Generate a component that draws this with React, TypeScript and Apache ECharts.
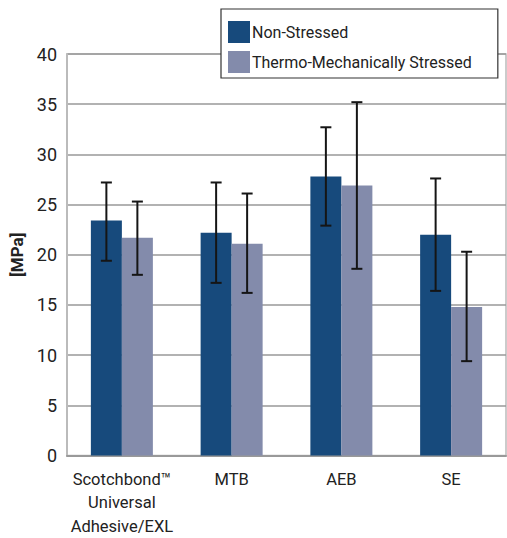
import React, { useEffect, useRef } from "react";
import * as echarts from "echarts";

const categories = ["Scotchbond™\nUniversal\nAdhesive/EXL", "MTB", "AEB", "SE"];
const nonStressed = [23.4, 22.2, 27.8, 22.0];
const nonStressedLow = [19.4, 17.2, 22.9, 16.4];
const nonStressedHigh = [27.2, 27.2, 32.7, 27.6];
const stressed = [21.7, 21.1, 26.9, 14.8];
const stressedLow = [18.0, 16.2, 18.6, 9.4];
const stressedHigh = [25.3, 26.1, 35.2, 20.3];
const yTicks = [0, 5, 10, 15, 20, 25, 30, 35, 40];

const FONT = "Roboto, 'Liberation Sans', sans-serif";
const BAR_W = 31;

function errorSeries(low: number[], high: number[], offset: number) {
  return {
    type: "custom",
    z: 5,
    silent: true,
    data: low.map((l, i) => [i, l, high[i]]),
    renderItem: (params: any, api: any) => {
      const i = api.value(0);
      const lo = api.coord([i, api.value(1)]);
      const hi = api.coord([i, api.value(2)]);
      const x = lo[0] + offset;
      const cap = 5.5;
      const style = { stroke: "#151515", lineWidth: 2 };
      return {
        type: "group",
        children: [
          { type: "line", shape: { x1: x, y1: hi[1], x2: x, y2: lo[1] }, style },
          { type: "line", shape: { x1: x - cap, y1: hi[1], x2: x + cap, y2: hi[1] }, style },
          { type: "line", shape: { x1: x - cap, y1: lo[1], x2: x + cap, y2: lo[1] }, style },
        ],
      };
    },
  };
}

export default function App() {
  const ref = useRef<HTMLDivElement>(null);
  useEffect(() => {
    if (!ref.current) return;
    const chart = echarts.init(ref.current, null, { renderer: "svg" });
    chart.setOption({
      animation: false,
      textStyle: { fontFamily: FONT },
      grid: {
        left: 67,
        right: 1,
        top: 54,
        bottom: 80,
        show: true,
        borderColor: "#bbb",
        borderWidth: 1.5,
        backgroundColor: "transparent",
      },
      legend: {
        orient: "vertical",
        left: 221,
        top: 9,
        padding: [12, 26, 5, 7],
        itemWidth: 22,
        itemHeight: 22,
        itemGap: 8,
        backgroundColor: "#fff",
        borderColor: "#333",
        borderWidth: 1.2,
        borderRadius: 0,
        textStyle: { fontFamily: FONT, fontSize: 16, color: "#222", padding: [0, 0, 0, -3] },
        data: ["Non-Stressed", "Thermo-Mechanically Stressed"],
        icon: "rect",
      },
      xAxis: {
        type: "category",
        data: categories,
        axisLine: { show: true, lineStyle: { color: "#999", width: 2 } },
        axisTick: { show: false },
        axisLabel: {
          fontFamily: FONT,
          fontSize: 16.5,
          color: "#222",
          margin: 12,
          lineHeight: 23.5,
          interval: 0,
        },
      },
      yAxis: {
        type: "value",
        min: 0,
        max: 40,
        interval: 5,
        name: "[MPa]",
        nameLocation: "middle",
        nameGap: 40,
        nameTextStyle: { fontFamily: FONT, fontSize: 17, fontWeight: "bold", color: "#222" },
        axisLine: { show: true, lineStyle: { color: "#bbb", width: 2 } },
        axisTick: { show: false },
        axisLabel: {
          fontFamily: FONT,
          fontSize: 18,
          color: "#222",
          margin: 10,
          formatter: (v: number) => (yTicks.includes(v) ? String(v) : ""),
        },
        splitLine: { show: true, lineStyle: { color: "#999", width: 1.5 } },
      },
      series: [
        {
          name: "Non-Stressed",
          type: "bar",
          data: nonStressed,
          barWidth: BAR_W,
          barGap: "0%",
          itemStyle: { color: "#174a7c" },
        },
        {
          name: "Thermo-Mechanically Stressed",
          type: "bar",
          data: stressed,
          barWidth: BAR_W,
          barGap: "0%",
          itemStyle: { color: "#838bab" },
        },
        errorSeries(nonStressedLow, nonStressedHigh, -BAR_W / 2),
        errorSeries(stressedLow, stressedHigh, BAR_W / 2),
      ],
    });
    return () => chart.dispose();
  }, []);
  return (
    <div
      ref={ref}
      style={{ position: "absolute", left: 0, top: 0, width: 507, height: 538, background: "#fff" }}
    />
  );
}
